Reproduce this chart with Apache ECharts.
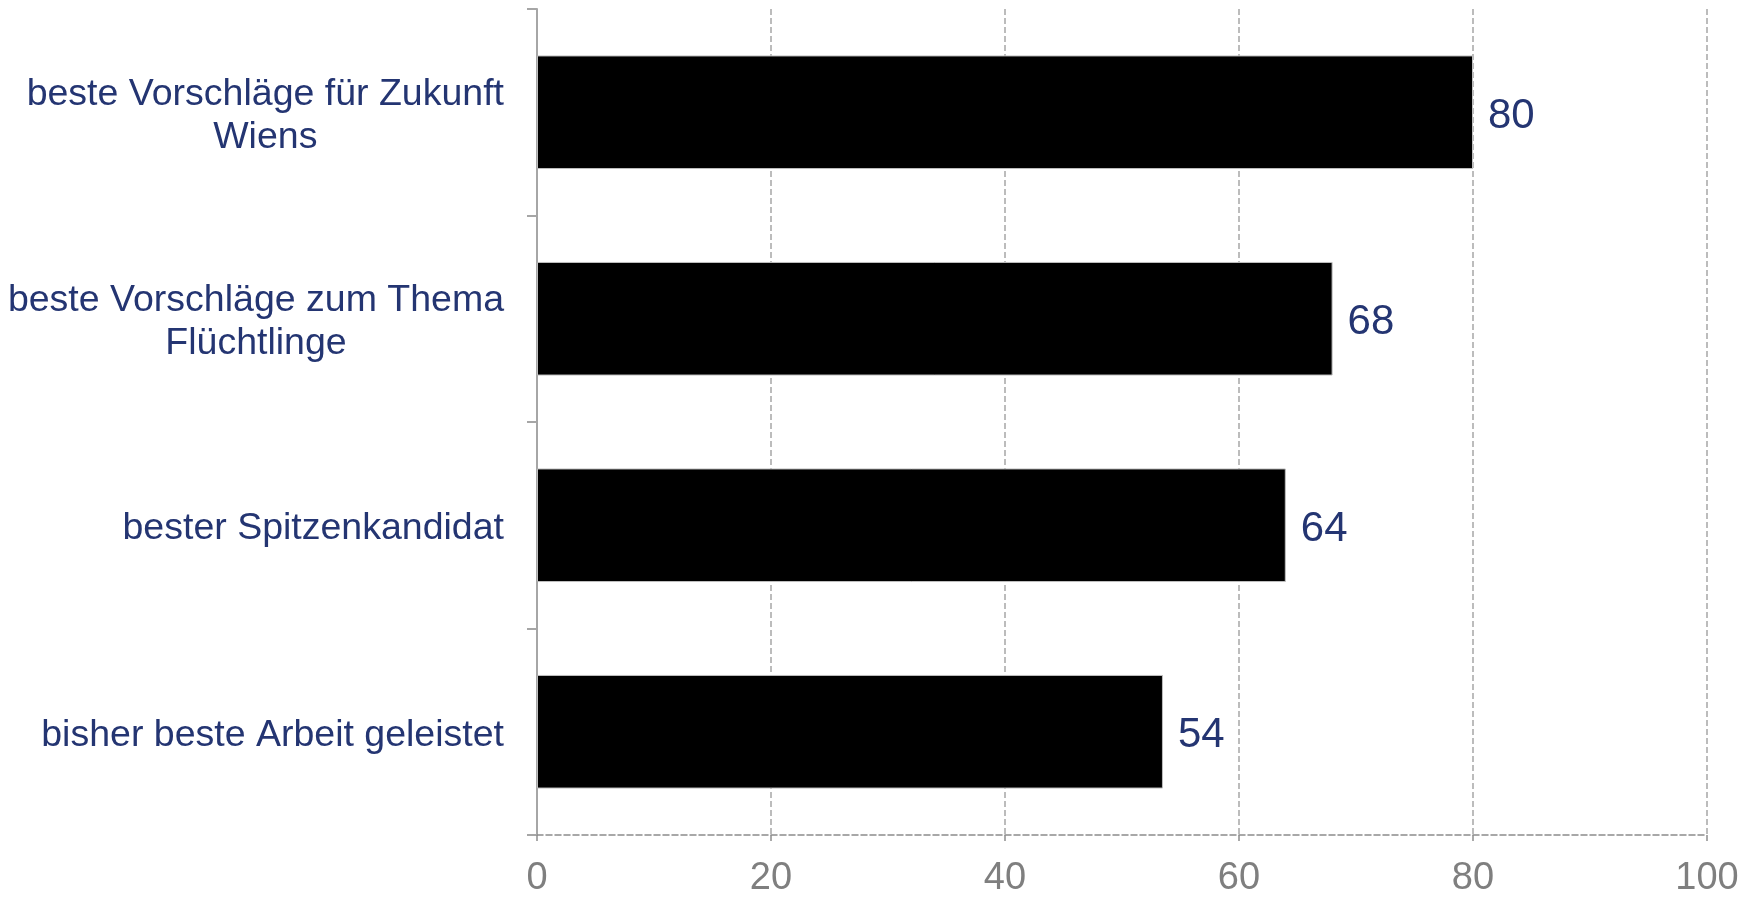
<!DOCTYPE html>
<html>
<head>
<meta charset="utf-8">
<script src="https://cdn.jsdelivr.net/npm/echarts@6/dist/echarts.min.js"></script>
<style>
  html, body { margin: 0; padding: 0; background: #fff; }
  #chart { width: 1757px; height: 898px; }
</style>
</head>
<body>
<div id="chart"></div>
<script>
var categories = [
    'beste Vorschläge für Zukunft\nWiens',
    'beste Vorschläge zum Thema\nFlüchtlinge',
    'bester Spitzenkandidat',
    'bisher beste Arbeit geleistet'
];
var values = [80, 68, 64, 53.5];
var xTicks = [0, 20, 40, 60, 80, 100];

var navy = '#243572';
var chart = echarts.init(document.getElementById('chart'));
var option = {
    animation: false,
    grid: {
        left: 537,
        right: 50,
        top: 9,
        bottom: 63,
        containLabel: false,
        outerBoundsMode: 'none'
    },
    xAxis: {
        type: 'value',
        min: xTicks[0],
        max: xTicks[xTicks.length - 1],
        interval: 20,
        axisLine: {show: true, lineStyle: {color: '#8c8c8c', type: 'dashed', width: 1.5}},
        axisTick: {show: true, length: 9, lineStyle: {color: '#8c8c8c', type: 'dashed', width: 1.5}},
        splitLine: {show: true, lineStyle: {color: '#a6a6a6', type: 'dashed', width: 1.5}},
        axisLabel: {
            color: '#7f7f7f',
            fontSize: 38,
            fontFamily: 'Liberation Sans',
            margin: 25
        }
    },
    yAxis: {
        type: 'category',
        inverse: true,
        data: categories,
        axisLine: {show: true, lineStyle: {color: '#a6a6a6', width: 2}},
        axisTick: {show: true, length: 10, lineStyle: {color: '#a6a6a6', width: 2}},
        axisLabel: {
            margin: 33,
            padding: [7, 0, 0, 0],
            formatter: function (v) {
                return v.split('\n').map(function (s) { return '{c|' + s + '}'; }).join('\n');
            },
            rich: {
                c: {
                    align: 'center',
                    color: navy,
                    fontSize: 37.5,
                    lineHeight: 43,
                    fontFamily: 'Liberation Sans'
                }
            }
        }
    },
    series: [
        {
            type: 'bar',
            data: values,
            barWidth: '55%',
            itemStyle: {color: '#000000', borderColor: '#bfbfbf', borderWidth: 1},
            label: {
                show: true,
                position: 'right',
                distance: 15,
                offset: [0, 4],
                color: navy,
                fontSize: 42,
                fontFamily: 'Liberation Sans',
                formatter: function (p) { return Math.round(p.value); }
            }
        }
    ]
};
chart.setOption(option);
</script>
</body>
</html>
